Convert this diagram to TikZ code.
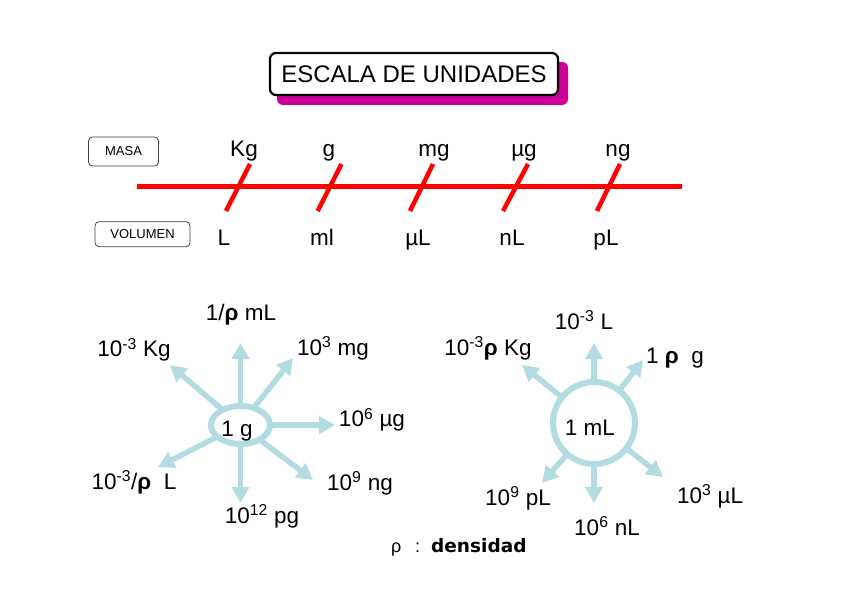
\documentclass[tikz,border=0pt]{standalone}
\usepackage{fontspec}
\setmainfont{Liberation Sans}
\newfontfamily\dvsans{DejaVu Sans}
\usetikzlibrary{arrows.meta,shapes.geometric}
\definecolor{magshadow}{RGB}{204,0,153}
\definecolor{paleblue}{RGB}{178,220,226}
\definecolor{scalered}{RGB}{255,0,0}
\newcommand{\sptext}[1]{\textsuperscript{#1}}
\begin{document}
\begin{tikzpicture}[x=1pt,y=-1pt,
  lbl/.style={font=\fontsize{22.5}{26}\selectfont, anchor=base, inner sep=0},
  unitbox/.style={draw=black!75, line width=0.8pt, rounded corners=4pt, font=\fontsize{13}{15}\selectfont, inner sep=0},
  ray/.style={draw=paleblue, line width=5.5pt, -{Triangle[width=17pt,length=16pt]}},
  slashline/.style={draw=scalered, line width=4.5pt},
]
\useasboundingbox[fill=white] (0,0) rectangle (848,599);

% title
\node[fill=magshadow, rounded corners=6pt, minimum width=291pt, minimum height=43pt, inner sep=0] (shadow) at (422.5,83.5) {};
\node[draw, line width=2.2pt, fill=white, rounded corners=6pt, minimum width=288pt, minimum height=42pt, inner sep=0, font=\fontsize{24}{28}\selectfont] (title) at (414,74) {ESCALA DE UNIDADES};

% boxes
\node[unitbox, minimum width=70pt, minimum height=29pt] (masa) at (123.5,151.5) {MASA};
\node[unitbox, minimum width=95pt, minimum height=25pt] (vol) at (142.5,234.2) {VOLUMEN};

% scale line
\coordinate (ls) at (137,186);
\coordinate (le) at (682,186);
\draw[draw=scalered, line width=5pt] (ls) -- (le);
\coordinate (s1a) at (250,164); \coordinate (s1b) at (226,211);
\coordinate (s2a) at (341.5,164); \coordinate (s2b) at (317.7,211);
\coordinate (s3a) at (433,164); \coordinate (s3b) at (410,211);
\coordinate (s4a) at (528,164); \coordinate (s4b) at (503,211);
\coordinate (s5a) at (620,164); \coordinate (s5b) at (597,211);
\draw[slashline] (s1a) -- (s1b);
\draw[slashline] (s2a) -- (s2b);
\draw[slashline] (s3a) -- (s3b);
\draw[slashline] (s4a) -- (s4b);
\draw[slashline] (s5a) -- (s5b);

\node[lbl] (kg) at (244,157) {Kg};
\node[lbl] (gr) at (329,157) {g};
\node[lbl] (mg) at (434,157) {mg};
\node[lbl] (ug) at (524,157) {µg};
\node[lbl] (ng) at (618,157) {ng};

\node[lbl] (vl) at (224,245) {L};
\node[lbl] (vml) at (322,245) {ml};
\node[lbl] (vul) at (418,245) {µL};
\node[lbl] (vnl) at (512,245) {nL};
\node[lbl] (vpl) at (606,245) {pL};

% left star: 1 g
\node[ellipse, draw=paleblue, line width=6pt, minimum width=59pt, minimum height=38pt, inner sep=0, outer sep=0] (g1) at (240.5,425) {};
\coordinate (ga) at (240.5,343);
\coordinate (gb) at (170,365);
\coordinate (gc) at (293,358);
\coordinate (gd) at (335,425);
\coordinate (ge) at (313,480);
\coordinate (gf) at (240.5,503);
\coordinate (gg) at (158,467);
\draw[ray] (g1) -- (ga);
\draw[ray] (g1) -- (gb);
\draw[ray] (g1) -- (gc);
\draw[ray] (g1) -- (gd);
\draw[ray] (g1) -- (ge);
\draw[ray] (g1) -- (gf);
\draw[ray] (g1) -- (gg);
\node[lbl] (g1t) at (237,436.7) {1 g};
\node[lbl] (la) at (241,320) {1/\textbf{ρ} mL};
\node[lbl] (lb) at (134,356.7) {10\sptext{-3} Kg};
\node[lbl] (lc) at (333,355) {10\sptext{3} mg};
\node[lbl] (ld) at (372,426.7) {10\sptext{6} µg};
\node[lbl] (le2) at (360,490) {10\sptext{9} ng};
\node[lbl] (lf) at (262,523) {10\sptext{12} pg};
\node[lbl] (lg) at (134,489) {10\sptext{-3}/\textbf{ρ}\ \ L};

% right star: 1 mL
\node[circle, draw=paleblue, line width=6pt, minimum size=82pt, inner sep=0, outer sep=0] (m1) at (594,423) {};
\coordinate (ma) at (594,343);
\coordinate (mb) at (522,365);
\coordinate (mc) at (643,360);
\coordinate (md) at (663,477);
\coordinate (me) at (594,503);
\coordinate (mf) at (542,483);
\draw[ray] (m1) -- (ma);
\draw[ray] (m1) -- (mb);
\draw[ray] (m1) -- (mc);
\draw[ray] (m1) -- (md);
\draw[ray] (m1) -- (me);
\draw[ray] (m1) -- (mf);
\node[lbl] (m1t) at (590,435) {1 mL};
\node[lbl] (ra) at (584,329) {10\sptext{-3} L};
\node[lbl] (rb) at (488,355) {10\sptext{-3}\textbf{ρ} Kg};
\node[lbl] (rc) at (675,363) {1 \textbf{ρ}\ \ g};
\node[lbl] (rd) at (710,503) {10\sptext{3} µL};
\node[lbl] (re) at (607,535) {10\sptext{6} nL};
\node[lbl] (rf) at (518,505) {10\sptext{9} pL};

% density note
\node[anchor=base west, inner sep=0, font=\fontsize{18}{22}\selectfont] (rho) at (391,552) {ρ};
\node[anchor=base west, inner sep=0, font=\fontsize{18}{22}\selectfont] (colon) at (415,552) {:};
\node[anchor=base west, inner sep=0, font=\dvsans\bfseries\fontsize{18.5}{22}\selectfont] (dens) at (431,552) {densidad};
\end{tikzpicture}
\end{document}
